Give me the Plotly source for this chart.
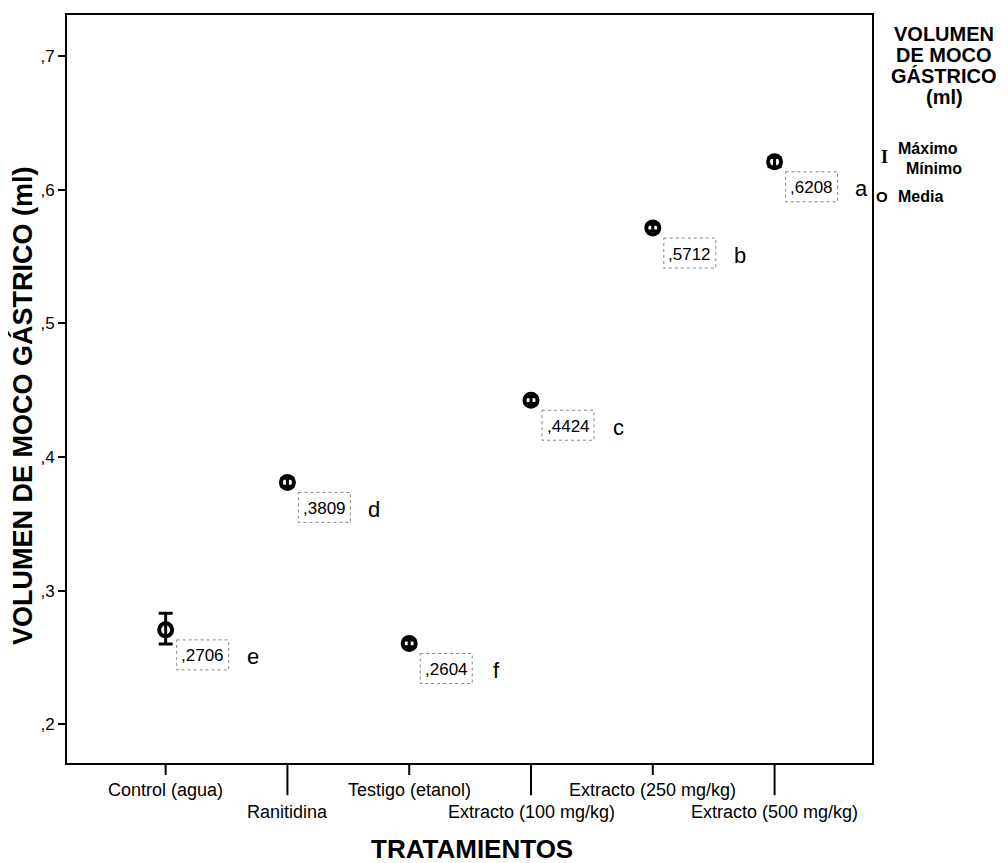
import plotly.graph_objects as go

categories = ["Control (agua)", "Ranitidina", "Testigo (etanol)",
              "Extracto (100 mg/kg)", "Extracto (250 mg/kg)", "Extracto (500 mg/kg)"]
means = [0.2706, 0.3809, 0.2604, 0.4424, 0.5712, 0.6208]
maxs = [0.283, 0.384, 0.263, 0.445, 0.574, 0.624]
mins = [0.260, 0.378, 0.258, 0.440, 0.569, 0.617]
value_labels = [",2706", ",3809", ",2604", ",4424", ",5712", ",6208"]
letters = ["e", "d", "f", "c", "b", "a"]
ytick_vals = [0.2, 0.3, 0.4, 0.5, 0.6, 0.7]
ytick_text = [",2", ",3", ",4", ",5", ",6", ",7"]
legend_title_lines = ["VOLUMEN", "DE MOCO", "GÁSTRICO", "(ml)"]

SANS = "Liberation Sans, Arial"
xs = list(range(len(categories)))

fig = go.Figure()
fig.add_trace(go.Scatter(
    x=xs, y=means, mode="markers",
    marker=dict(symbol="circle-open", size=13, color="black", line=dict(width=4, color="black")),
    error_y=dict(type="data", symmetric=False,
                 array=[mx - m for mx, m in zip(maxs, means)],
                 arrayminus=[m - mn for mn, m in zip(mins, means)],
                 color="black", thickness=3, width=7),
    showlegend=False, hoverinfo="skip"))

annotations = []
shapes = []
for i, (m, lab, let) in enumerate(zip(means, value_labels, letters)):
    annotations.append(dict(x=i, y=m, xref="x", yref="y", text=lab, showarrow=False,
                            xshift=37, yshift=-26,
                            font=dict(family=SANS, size=17, color="black")))
    annotations.append(dict(x=i, y=m, xref="x", yref="y", text=let, showarrow=False,
                            xshift=87, yshift=-27,
                            font=dict(family=SANS, size=22, color="black")))
    shapes.append(dict(type="rect", xref="x", yref="y", xsizemode="pixel", ysizemode="pixel",
                       xanchor=i, yanchor=m, x0=11, x1=63, y0=-10, y1=-40,
                       line=dict(color="#888888", width=1, dash="dot")))
    # category tick marks (staggered)
    tl = 0.016 if i % 2 == 0 else 0.043
    shapes.append(dict(type="line", xref="x", yref="paper", x0=i, x1=i, y0=0, y1=-tl,
                       line=dict(color="black", width=2)))
    annotations.append(dict(x=i, y=0, xref="x", yref="paper", text=categories[i], showarrow=False,
                            yanchor="middle", yshift=-27 if i % 2 == 0 else -49,
                            font=dict(family=SANS, size=18, color="black")))

# Axis titles
annotations.append(dict(x=0.5, y=0, xref="paper", yref="paper", text="<b>TRATAMIENTOS</b>",
                        showarrow=False, yanchor="middle", yshift=-86, xshift=2,
                        font=dict(family=SANS, size=26, color="black")))
annotations.append(dict(x=0, y=0.5, xref="paper", yref="paper", text="<b>VOLUMEN DE MOCO GÁSTRICO (ml)</b>",
                        showarrow=False, textangle=-90, xanchor="center", yanchor="middle",
                        xshift=-45, yshift=-17,
                        font=dict(family=SANS, size=27, color="black")))

# Legend (drawn as text, right of plot)
for k, line in enumerate(legend_title_lines):
    annotations.append(dict(x=1, y=1, xref="paper", yref="paper", text="<b>" + line + "</b>",
                            showarrow=False, xanchor="center", yanchor="middle",
                            xshift=72, yshift=-(32 + 21 * k - 13),
                            font=dict(family=SANS, size=20, color="black")))
annotations.append(dict(x=1, y=1, xref="paper", yref="paper", text="<b>I</b>", showarrow=False,
                        xanchor="center", yanchor="middle", xshift=12, yshift=-(155 - 13),
                        font=dict(family="Liberation Serif, Times New Roman", size=18, color="black")))
annotations.append(dict(x=1, y=1, xref="paper", yref="paper", text="<b>Máximo</b>", showarrow=False,
                        xanchor="left", yanchor="middle", xshift=24, yshift=-(146 - 13),
                        font=dict(family=SANS, size=16, color="black")))
annotations.append(dict(x=1, y=1, xref="paper", yref="paper", text="<b>Mínimo</b>", showarrow=False,
                        xanchor="left", yanchor="middle", xshift=32, yshift=-(166 - 13),
                        font=dict(family=SANS, size=16, color="black")))
annotations.append(dict(x=1, y=1, xref="paper", yref="paper", text="<b>O</b>", showarrow=False,
                        xanchor="center", yanchor="middle", xshift=10, yshift=-(194 - 13),
                        font=dict(family=SANS, size=15, color="black")))
annotations.append(dict(x=1, y=1, xref="paper", yref="paper", text="<b>Media</b>", showarrow=False,
                        xanchor="left", yanchor="middle", xshift=24, yshift=-(194 - 13),
                        font=dict(family=SANS, size=16, color="black")))

fig.update_layout(
    width=1000, height=855,
    margin=dict(l=59, r=136, t=5, b=100),
    paper_bgcolor="white", plot_bgcolor="white",
    xaxis=dict(range=[-0.81, 5.80], showgrid=False, zeroline=False, showticklabels=False,
               ticks="", showline=True, linecolor="black", linewidth=2, mirror=True),
    yaxis=dict(range=[0.171, 0.7306], showgrid=False, zeroline=False,
               tickvals=ytick_vals, ticktext=ytick_text, ticks="outside", ticklen=7,
               tickwidth=2, tickcolor="black",
               tickfont=dict(family=SANS, size=17, color="black"),
               showline=True, linecolor="black", linewidth=2, mirror=True),
    annotations=annotations, shapes=shapes,
)
fig.write_html("out.html")
